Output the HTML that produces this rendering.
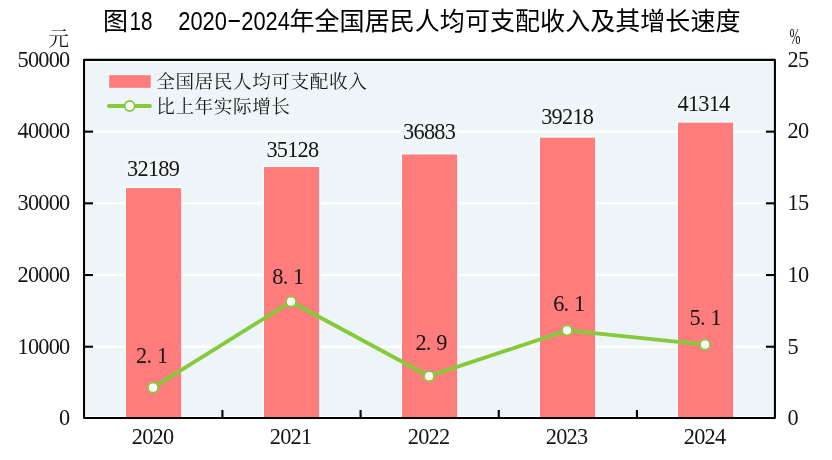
<!DOCTYPE html>
<html lang="zh-CN"><head><meta charset="utf-8"><title>图18 2020-2024年全国居民人均可支配收入及其增长速度</title>
<style>html,body{margin:0;padding:0;background:#fff}body{width:832px;height:460px;overflow:hidden}svg{display:block}.s{font-family:'Liberation Serif','Noto Serif CJK SC',serif;font-size:22.3px;fill:#151515}.g{font-family:'Liberation Serif','Noto Serif CJK SC',serif;font-size:18.6px;letter-spacing:0.6px;fill:#151515}.t{font-family:'Liberation Sans','Noto Sans CJK SC',sans-serif;font-size:25px;fill:#000}</style></head><body>
<svg width="832" height="460" viewBox="0 0 832 460">
<rect width="832" height="460" fill="#fff"/>
<rect x="84.05" y="59.9" width="690.85" height="358.10" fill="#EDF5F9"/>
<line x1="84.05" x2="774.9" y1="346.71" y2="346.71" stroke="#fff" stroke-width="2.4"/>
<line x1="84.05" x2="774.9" y1="275.02" y2="275.02" stroke="#fff" stroke-width="2.4"/>
<line x1="84.05" x2="774.9" y1="203.33" y2="203.33" stroke="#fff" stroke-width="2.4"/>
<line x1="84.05" x2="774.9" y1="131.64" y2="131.64" stroke="#fff" stroke-width="2.4"/>
<rect x="125.30" y="157.30" width="55.6" height="23.2" fill="#F0F7FA"/>
<rect x="264.60" y="137.90" width="55.6" height="23.2" fill="#F0F7FA"/>
<rect x="401.30" y="120.20" width="55.6" height="23.2" fill="#F0F7FA"/>
<rect x="539.40" y="105.05" width="55.6" height="23.2" fill="#F0F7FA"/>
<rect x="675.70" y="92.20" width="55.6" height="23.2" fill="#F0F7FA"/>
<rect x="85.55" y="61.4" width="687.85" height="355.10" fill="none" stroke="#fff" stroke-width="1.2"/>
<rect x="124.81" y="186.89" width="57.55" height="231.11" fill="#fff" fill-opacity="0.85"/>
<rect x="126.01" y="188.09" width="55.15" height="229.91" fill="#FF7C7C"/>
<rect x="262.81" y="165.82" width="57.55" height="252.18" fill="#fff" fill-opacity="0.85"/>
<rect x="264.01" y="167.02" width="55.15" height="250.98" fill="#FF7C7C"/>
<rect x="400.81" y="153.24" width="57.55" height="264.76" fill="#fff" fill-opacity="0.85"/>
<rect x="402.01" y="154.44" width="55.15" height="263.56" fill="#FF7C7C"/>
<rect x="538.80" y="136.50" width="57.55" height="281.50" fill="#fff" fill-opacity="0.85"/>
<rect x="540.00" y="137.70" width="55.15" height="280.30" fill="#FF7C7C"/>
<rect x="676.80" y="121.47" width="57.55" height="296.53" fill="#fff" fill-opacity="0.85"/>
<rect x="678.00" y="122.67" width="55.15" height="295.33" fill="#FF7C7C"/>
<line x1="84.05" x2="93.05" y1="346.71" y2="346.71" stroke="#000" stroke-width="2.1"/>
<line x1="765.9" x2="774.9" y1="346.71" y2="346.71" stroke="#000" stroke-width="2.1"/>
<line x1="84.05" x2="93.05" y1="275.02" y2="275.02" stroke="#000" stroke-width="2.1"/>
<line x1="765.9" x2="774.9" y1="275.02" y2="275.02" stroke="#000" stroke-width="2.1"/>
<line x1="84.05" x2="93.05" y1="203.33" y2="203.33" stroke="#000" stroke-width="2.1"/>
<line x1="765.9" x2="774.9" y1="203.33" y2="203.33" stroke="#000" stroke-width="2.1"/>
<line x1="84.05" x2="93.05" y1="131.64" y2="131.64" stroke="#000" stroke-width="2.1"/>
<line x1="765.9" x2="774.9" y1="131.64" y2="131.64" stroke="#000" stroke-width="2.1"/>
<line x1="222.42" x2="222.42" y1="410.0" y2="418.0" stroke="#000" stroke-width="2.1"/>
<line x1="360.59" x2="360.59" y1="410.0" y2="418.0" stroke="#000" stroke-width="2.1"/>
<line x1="498.76" x2="498.76" y1="410.0" y2="418.0" stroke="#000" stroke-width="2.1"/>
<line x1="636.93" x2="636.93" y1="410.0" y2="418.0" stroke="#000" stroke-width="2.1"/>
<rect x="84.05" y="59.9" width="690.85" height="358.10" fill="none" stroke="#000" stroke-width="2.1" stroke-linejoin="round"/>
<polyline points="153.05,387.63 291.05,301.71 429.05,376.17 567.05,330.35 705.05,344.67" fill="none" stroke="#86CA3C" stroke-width="3.9" stroke-linejoin="round" stroke-linecap="round"/>
<circle cx="153.05" cy="387.63" r="5.05" fill="#fff" stroke="#86CA3C" stroke-width="1.9"/>
<circle cx="291.05" cy="301.71" r="5.05" fill="#fff" stroke="#86CA3C" stroke-width="1.9"/>
<circle cx="429.05" cy="376.17" r="5.05" fill="#fff" stroke="#86CA3C" stroke-width="1.9"/>
<circle cx="567.05" cy="330.35" r="5.05" fill="#fff" stroke="#86CA3C" stroke-width="1.9"/>
<circle cx="705.05" cy="344.67" r="5.05" fill="#fff" stroke="#86CA3C" stroke-width="1.9"/>
<rect x="109.2" y="75.2" width="41.5" height="12.6" fill="#FF7C7C"/>
<line x1="108.9" x2="150" y1="106.05" y2="106.05" stroke="#86CA3C" stroke-width="3.9" stroke-linecap="round"/>
<circle cx="129.7" cy="106.05" r="5.05" fill="#fff" stroke="#86CA3C" stroke-width="1.9"/>
<text class="g" x="156.2" y="87.5">全国居民人均可支配收入</text>
<text class="g" x="156.2" y="112.5">比上年实际增长</text>
<text class="t" y="29.6"><tspan x="103">图</tspan><tspan x="129.5" textLength="23" lengthAdjust="spacingAndGlyphs">18</tspan><tspan x="178.3" textLength="48.6" lengthAdjust="spacingAndGlyphs">2020</tspan><tspan x="226.8" y="27.9" textLength="15" lengthAdjust="spacingAndGlyphs">-</tspan><tspan x="241.3" y="29.6" textLength="48.6" lengthAdjust="spacingAndGlyphs">2024</tspan><tspan x="289.5" textLength="451" lengthAdjust="spacing">年全国居民人均可支配收入及其增长速度</tspan></text>
<text class="s" x="68.9" y="45.6" text-anchor="end" style="font-size:20.4px">元</text>
<text class="s" x="789.5" y="44" textLength="11" lengthAdjust="spacingAndGlyphs">%</text>
<text class="s" x="59.10" y="425.20">0</text>
<text class="s" x="787.60" y="425.20">0</text>
<text class="s" x="17.50 27.90 38.30 48.70 59.10" y="353.51">10000</text>
<text class="s" x="787.60" y="353.51">5</text>
<text class="s" x="17.50 27.90 38.30 48.70 59.10" y="281.82">20000</text>
<text class="s" x="787.60 798.00" y="281.82">10</text>
<text class="s" x="17.50 27.90 38.30 48.70 59.10" y="210.13">30000</text>
<text class="s" x="787.60 798.00" y="210.13">15</text>
<text class="s" x="17.50 27.90 38.30 48.70 59.10" y="138.44">40000</text>
<text class="s" x="787.60 798.00" y="138.44">20</text>
<text class="s" x="17.50 27.90 38.30 48.70 59.10" y="66.75">50000</text>
<text class="s" x="787.60 798.00" y="66.75">25</text>
<text class="s" x="131.75 142.15 152.55 162.95" y="443.80">2020</text>
<text class="s" x="269.75 280.15 290.55 300.95" y="443.80">2021</text>
<text class="s" x="407.75 418.15 428.55 438.95" y="443.80">2022</text>
<text class="s" x="545.75 556.15 566.55 576.95" y="443.80">2023</text>
<text class="s" x="683.75 694.15 704.55 714.95" y="443.80">2024</text>
<text class="s" x="127.10 137.50 147.90 158.30 168.70" y="175.90">32189</text>
<text class="s" x="266.40 276.80 287.20 297.60 308.00" y="156.50">35128</text>
<text class="s" x="403.10 413.50 423.90 434.30 444.70" y="138.80">36883</text>
<text class="s" x="541.20 551.60 562.00 572.40 582.80" y="123.65">39218</text>
<text class="s" x="677.50 687.90 698.30 708.70 719.10" y="110.80">41314</text>
<text class="s" x="136.10 146.50 156.90" y="362.90">2.1</text>
<text class="s" x="272.30 282.70 293.10" y="283.80">8.1</text>
<text class="s" x="415.40 425.80 436.20" y="349.80">2.9</text>
<text class="s" x="553.20 563.60 574.00" y="310.90">6.1</text>
<text class="s" x="689.60 700.00 710.40" y="324.90">5.1</text>
</svg></body></html>
